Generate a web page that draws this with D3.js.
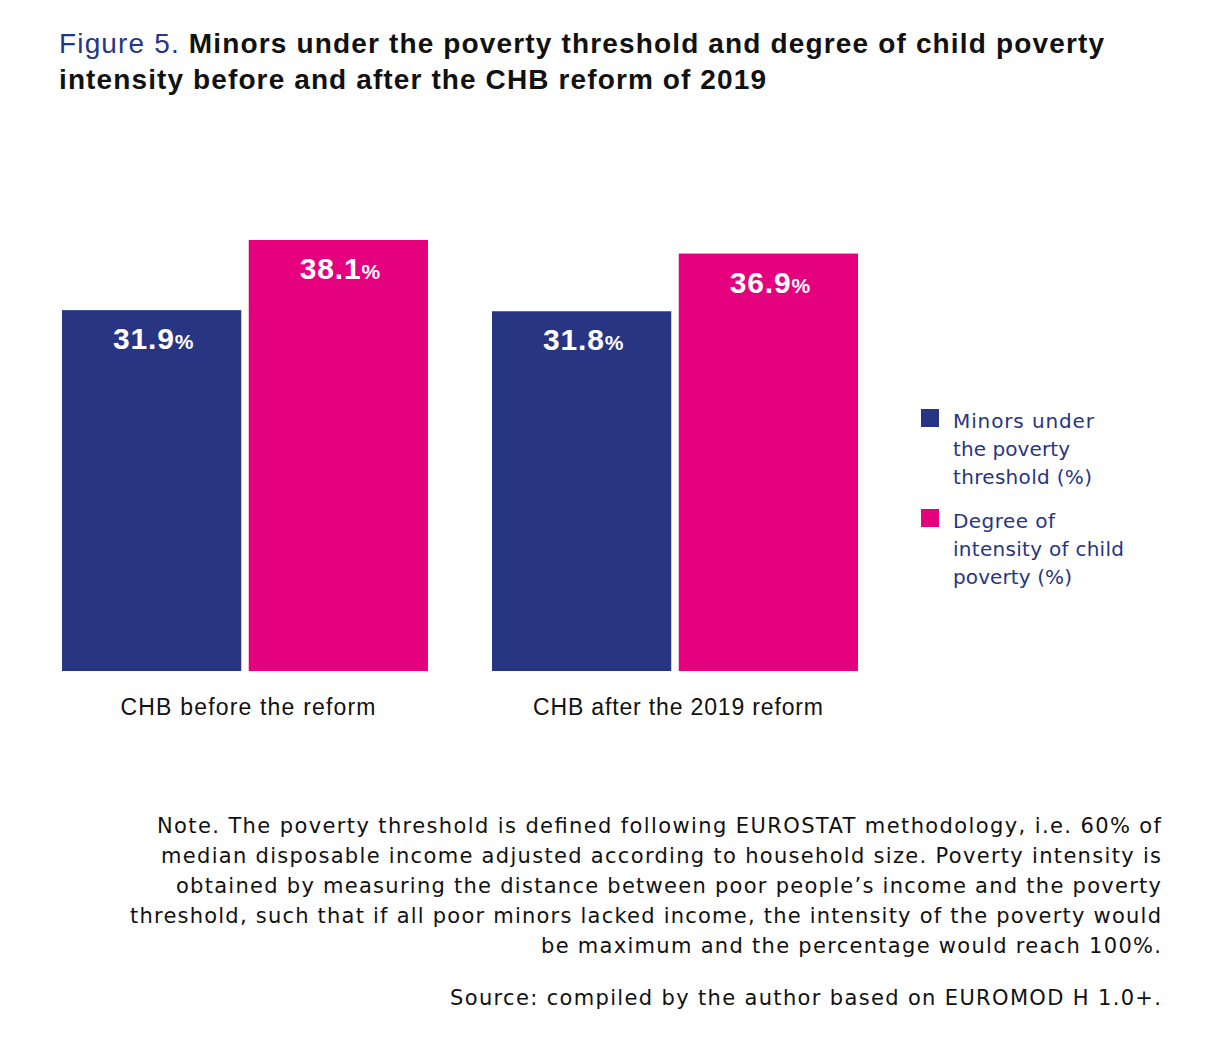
<!DOCTYPE html>
<html>
<head>
<meta charset="utf-8">
<script src="https://cdn.jsdelivr.net/npm/d3@7"></script>
<style>
  body { margin: 0; background: #fff; }
  svg { display: block; font-family: "Liberation Sans", Arial, sans-serif; }
  .wide { font-family: "DejaVu Sans", "Liberation Sans", sans-serif; }
</style>
</head>
<body>
<script>
// chart data
const categories = ["CHB before the reform", "CHB after the 2019 reform"];
const seriesNames = ["Minors under the poverty threshold (%)", "Degree of intensity of child poverty (%)"];
const minorsUnder = [31.9, 31.8];
const intensity = [38.1, 36.9];
const legendLines = [["Minors under", "the poverty", "threshold (%)"], ["Degree of", "intensity of child", "poverty (%)"]];
const noteLines = [
    "Note. The poverty threshold is defined following EUROSTAT methodology, i.e. 60% of",
    "median disposable income adjusted according to household size. Poverty intensity is",
    "obtained by measuring the distance between poor people\u2019s income and the poverty",
    "threshold, such that if all poor minors lacked income, the intensity of the poverty would",
    "be maximum and the percentage would reach 100%."
];
const sourceLine = "Source: compiled by the author based on EUROMOD H 1.0+.";

const colors = ["#283583", "#e5007e"];

// widths of the text lines as they sit in the original (layout only)
const noteWidths = [1004, 1000, 985, 1031, 620];
const legendWidths = [[141, 117, 139], [102, 171, 119]];
const catWidths = [255, 290];

window.onload = draw();

function draw(){
    let width = 1227;
    let height = 1055;

    let svg = d3.select("body")
        .append("svg")
        .attr("width", width)
        .attr("height", height);

    // title
    let t1 = svg.append("text")
        .attr("x", 59)
        .attr("y", 53)
        .style("font-size", "28px");
    t1.append("tspan").attr("fill", colors[0]).text("Figure 5. ");
    t1.append("tspan").attr("fill", "#111").attr("font-weight", "bold")
        .text("Minors under the poverty threshold and degree of child poverty");
    t1.attr("textLength", 1045).attr("lengthAdjust", "spacing");
    svg.append("text")
        .attr("x", 59)
        .attr("y", 89)
        .attr("fill", "#111")
        .attr("font-weight", "bold")
        .style("font-size", "28px")
        .attr("textLength", 707)
        .attr("lengthAdjust", "spacing")
        .text("intensity before and after the CHB reform of 2019");

    // scales
    let bottom = 671;
    let y = d3.scaleLinear()
        .domain([0, 38.1])
        .range([bottom, 240]);

    let x0 = d3.scalePoint()
        .domain(categories)
        .range([62, 492]);

    let x1 = d3.scaleBand()
        .domain([0, 1])
        .range([0, 366])
        .paddingInner(0.04);

    let rows = categories.map((c, i) => ({cat: c, vals: [minorsUnder[i], intensity[i]]}));

    let groups = svg.selectAll(".grp")
        .data(rows)
        .enter()
        .append("g")
        .attr("class", "grp")
        .attr("transform", d => "translate(" + x0(d.cat) + ",0)");

    groups.selectAll("rect")
        .data(d => d.vals)
        .enter()
        .append("rect")
        .attr("x", (d, i) => x1(i))
        .attr("width", x1.bandwidth())
        .attr("y", d => y(d))
        .attr("height", d => bottom - y(d))
        .attr("fill", (d, i) => colors[i]);

    // value labels
    let lab = groups.selectAll(".val")
        .data(d => d.vals)
        .enter()
        .append("text")
        .attr("class", "val")
        .attr("x", (d, i) => x1(i) + x1.bandwidth() / 2 + 2)
        .attr("y", d => y(d) + 39)
        .attr("text-anchor", "middle")
        .attr("fill", "#fff")
        .attr("font-weight", "bold")
        .style("letter-spacing", "0.8px");
    lab.append("tspan").style("font-size", "30px").text(d => d.toFixed(1));
    lab.append("tspan").style("font-size", "21px").text("%");

    // category labels
    groups.append("text")
        .attr("x", x1.range()[1] / 2 + 3)
        .attr("y", 715)
        .attr("text-anchor", "middle")
        .attr("fill", "#111")
        .style("font-size", "23px")
        .attr("textLength", (d, i) => catWidths[i])
        .attr("lengthAdjust", "spacing")
        .text(d => d.cat);

    // legend
    let leg = svg.selectAll(".leg")
        .data(seriesNames)
        .enter()
        .append("g")
        .attr("class", "leg")
        .attr("transform", (d, i) => "translate(921," + (409 + i * 100) + ")");
    leg.append("rect")
        .attr("width", 18)
        .attr("height", 18)
        .attr("fill", (d, i) => colors[i]);
    leg.each(function(d, i){
        d3.select(this).selectAll("text")
            .data(legendLines[i])
            .enter()
            .append("text")
            .attr("class", "wide")
            .attr("x", 32)
            .attr("y", (l, j) => 19 + j * 28)
            .attr("fill", colors[0])
            .style("font-size", "20px")
            .attr("textLength", (l, j) => legendWidths[i][j])
            .attr("lengthAdjust", "spacing")
            .text(l => l);
    });

    // note
    svg.selectAll(".note")
        .data(noteLines)
        .enter()
        .append("text")
        .attr("class", "note wide")
        .attr("x", 1161)
        .attr("y", (d, i) => 833 + i * 30)
        .attr("text-anchor", "end")
        .attr("fill", "#111")
        .style("font-size", "21px")
        .attr("textLength", (d, i) => noteWidths[i])
        .attr("lengthAdjust", "spacing")
        .text(d => d);

    svg.append("text")
        .attr("class", "wide")
        .attr("x", 1161)
        .attr("y", 1005)
        .attr("text-anchor", "end")
        .attr("fill", "#111")
        .style("font-size", "21px")
        .attr("textLength", 711)
        .attr("lengthAdjust", "spacing")
        .text(sourceLine);
}
</script>
</body>
</html>
